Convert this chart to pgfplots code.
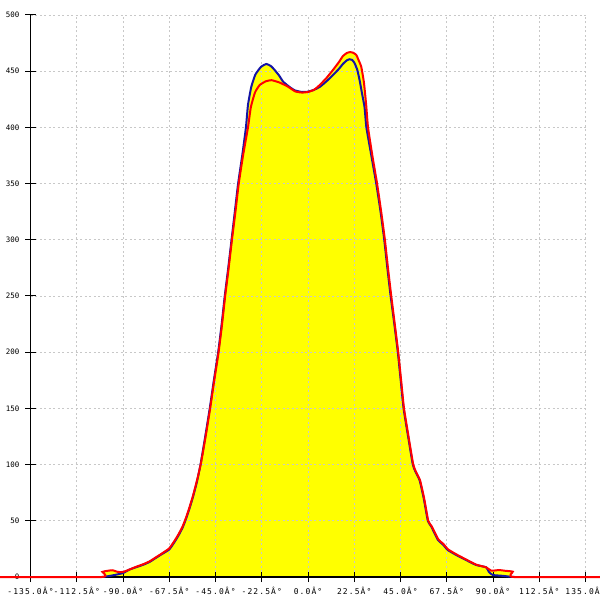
\documentclass[border=0pt]{standalone}
\usepackage{pgfplots}
\pgfplotsset{compat=1.18}
\usepackage{pgfplotstable}
\usepackage{fontspec}
\setmainfont{DejaVu Sans Mono}
\definecolor{cblue}{RGB}{20,20,165}
\definecolor{cgrid}{RGB}{200,200,200}
\definecolor{cyel}{RGB}{255,255,0}
\pgfplotstableread{
x y
-100 0
-97 0.8
-94 1.8
-90 3.5
-87 6.5
-84 8.5
-80 11
-77 13.5
-74 17
-71 20.5
-67.5 24.5
-65 31
-63 37
-61 44
-59.5 51
-58 59
-56 71
-54 85
-52.3 100
-50 125
-47.8 150
-45.8 175
-43.7 200
-42 225
-40.5 250
-38.8 275
-37.2 300
-35.6 325
-34 350
-32 375
-30.2 400
-29.2 420
-27.6 436
-25.6 447
-22.8 454
-20.2 456.4
-18 454.5
-16.2 451
-14 446
-12.1 440.7
-9 436
-6.5 433
-3 431.5
0 431.8
3 433.5
5.7 436
9 441
12.1 446.5
15 452
17 456.5
19 459.8
20.3 460.6
21.5 460
22.7 457
24 451
25.1 442
26.3 430
27.5 418
28.4 400
30.8 375
33.2 350
35.3 325
37.1 300
38.6 275
40.2 250
42 225
43.7 200
45.1 175
46.5 150
48.7 125
51 100
52.3 93.7
54.3 86
56.3 70
58.3 50
60 44.8
63.2 33
65.6 29
68 24
72.1 19.6
77 15
81.8 10.7
86.7 8.6
88 4.5
89.9 1.8
95 1
98 0.3
100.5 0
}\blueseries
\pgfplotstableread{
x y
-150 0
-100.4 0
-100 4.5
-97.5 5.5
-95 6
-92.5 4.5
-90 4.5
-87 6.5
-84 8.8
-80 11.5
-77 14
-74 17.5
-71 21
-67.5 25.5
-65 32
-63 38
-61 45
-59.5 52
-58 60
-56 72
-54 86
-52 102
-49.8 125
-47.6 150
-45.6 175
-43.5 200
-41.8 225
-40.3 250
-38.6 275
-37 300
-35.3 325
-33.7 350
-31.6 375
-29.2 400
-27.8 418
-25.8 431
-23.5 437.7
-20.5 441
-17.8 442
-14 440
-10 436.5
-6.2 432
-3 431
0 431.5
3 433.5
5.7 437.7
9 444
12.1 451
15 458
17 463.5
19 466.3
20.6 467
22 466.4
23.5 464.4
24.8 459
25.9 454
27.2 440
28.3 420
29.2 400
31.3 375
33.6 350
35.6 325
37.4 300
38.9 275
40.5 250
42.2 225
43.9 200
45.3 175
46.7 150
48.9 125
51.2 100
52.5 93.7
54.5 86
56.5 70
58.5 50
60.2 45
63.4 33.5
65.8 29.5
68.2 24.5
72.3 20
77.2 15.3
81.8 11
86.7 8.6
89.1 5.6
93 6.2
96 5.5
99.6 4.7
100 0
142 0
}\redseries
\pgfplotsset{
  common/.style={
    scale only axis,
    width=555bp, height=562bp,
    xmin=-135, xmax=135, ymin=0, ymax=500,
    clip=false,
  }
}
\begin{document}
\begin{tikzpicture}
\begin{axis}[
  common,
  axis on top,
  axis x line=bottom, axis y line=left,
  axis line style={-, black, line width=1.2bp},
  tick align=center,
  major tick length=10bp,
  tick style={black, line width=1bp},
  xtick={-135,-112.5,-90,-67.5,-45,-22.5,0,22.5,45,67.5,90,112.5,135},
  xticklabels={-135.0Â°,-112.5Â°,-90.0Â°,-67.5Â°,-45.0Â°,-22.5Â°,0.0Â°,22.5Â°,45.0Â°,67.5Â°,90.0Â°,112.5Â°,135.0Â°},
  ytick={0,50,100,150,200,250,300,350,400,450,500},
  yticklabels={0,50,100,150,200,250,300,350,400,450,500},
  xticklabel style={anchor=base, yshift=-12.5bp, inner sep=0pt, font=\fontsize{8}{9}\selectfont\addfontfeature{LetterSpace=14}},
  yticklabel style={anchor=east, xshift=-6bp, inner sep=0pt, font=\fontsize{7.5}{9}\selectfont},
  grid=major,
  major grid style={cgrid, line width=0.8bp, dash pattern=on 2bp off 2.5bp},
]
\addplot[fill=cyel, draw=none, smooth, tension=0.3] table {\blueseries} \closedcycle;
\addplot[fill=cyel, draw=none, smooth, tension=0.3] table {\redseries} \closedcycle;
\end{axis}
\begin{axis}[
  common,
  hide axis,
]
\addplot[cblue, line width=2bp, smooth, tension=0.3] table {\blueseries};
\addplot[red, line width=2bp, smooth, tension=0.3] table {\redseries};
\end{axis}
\pgfresetboundingbox
\path ([shift={(-30.5bp,-23bp)}]current axis.south west) rectangle ([shift={(14bp,15bp)}]current axis.north east);
\end{tikzpicture}
\end{document}
